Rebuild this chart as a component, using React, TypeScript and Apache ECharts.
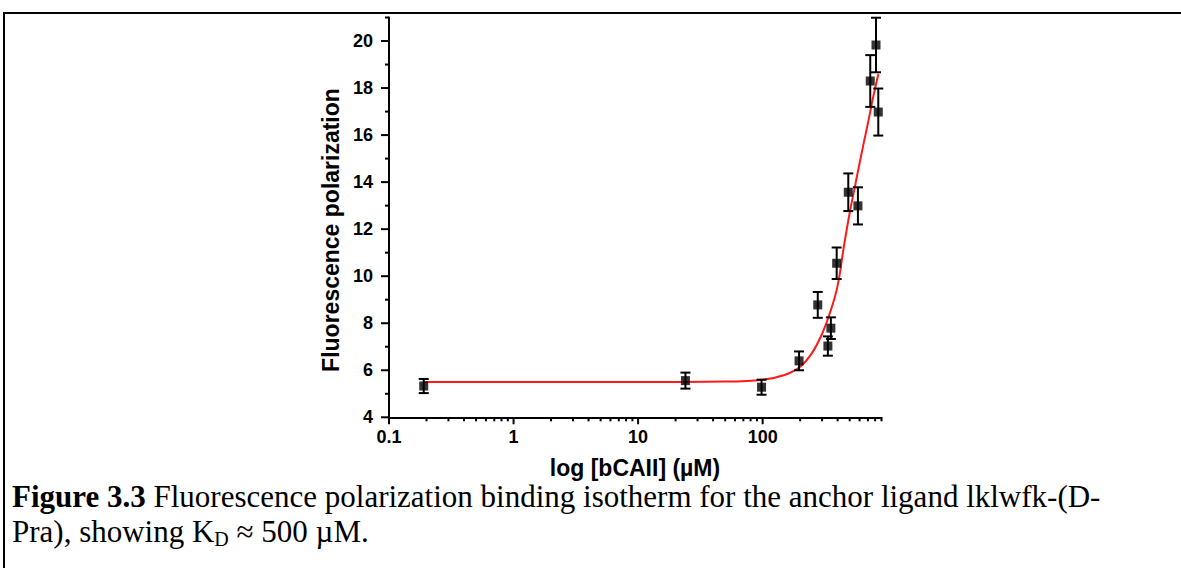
import React, { useEffect, useRef } from 'react';
import * as echarts from 'echarts';

// Measured data points (bCAII concentration in µM, polarization, error)
const concentrations = [0.19, 24, 98, 196, 277, 334, 353, 393, 487, 582, 731, 813, 848];
const polarization = [5.33, 5.56, 5.28, 6.40, 8.78, 7.03, 7.79, 10.55, 13.57, 12.99, 18.30, 19.83, 16.98];
const errors = [0.30, 0.34, 0.32, 0.40, 0.55, 0.41, 0.46, 0.67, 0.80, 0.79, 1.10, 1.16, 1.00];

// Fitted curve
const fitX = [0.19, 10, 50, 100, 150, 200, 250, 300, 350, 400, 450, 500, 550, 600, 650, 700, 750, 800, 850];
const fitY = [5.5, 5.5, 5.52, 5.6, 5.8, 6.15, 6.75, 7.55, 8.5, 9.6, 11.3, 12.7, 13.8, 14.8, 15.7, 16.5, 17.3, 18.0, 18.6];

// Axis ticks
const xMajorTicks = [0.1, 1, 10, 100];
const xMinorTicks = [
  0.2, 0.3, 0.4, 0.5, 0.6, 0.7, 0.8, 0.9,
  2, 3, 4, 5, 6, 7, 8, 9,
  20, 30, 40, 50, 60, 70, 80, 90,
  200, 300, 400, 500, 600, 700, 800, 900,
];
const yMajorTicks = [4, 6, 8, 10, 12, 14, 16, 18, 20];
const yMinorTicks = [5, 7, 9, 11, 13, 15, 17, 19, 21];

const X_MIN = 0.1;
const X_MAX = 900;
const Y_MIN = 4;
const Y_MAX = 21;

const SERIF = 'Liberation Serif, Times New Roman, serif';
const SANS = 'Liberation Sans, Arial, sans-serif';

const CAPTION_1_BOLD = 'Figure 3.3';
const CAPTION_1_REST = ' Fluorescence polarization binding isotherm for the anchor ligand lklwfk-(D-';
const CAPTION_2_PRE = 'Pra), showing K';
const CAPTION_2_SUB = 'D';
const CAPTION_2_POST = ' \u2248 500 \u00b5M.';

function measure(text: string, font: string): number {
  const c = document.createElement('canvas').getContext('2d');
  if (!c) return text.length * 14;
  c.font = font;
  return c.measureText(text).width;
}

export default function App() {
  const ref = useRef<HTMLDivElement>(null);

  useEffect(() => {
    if (!ref.current) return;
    const chart = echarts.init(ref.current, undefined, { renderer: 'svg' });

    const axisFont = {
      fontFamily: SANS,
      fontWeight: 'bold' as const,
      fontSize: 18,
      color: '#000',
    };

    const xTickData = [
      ...xMajorTicks.map((v) => [v, Y_MIN, 1]),
      ...xMinorTicks.map((v) => [v, Y_MIN, 0]),
    ];
    const yTickData = [
      ...yMajorTicks.map((v) => [X_MIN, v, 1]),
      ...yMinorTicks.map((v) => [X_MIN, v, 0]),
    ];

    const capX = 12;
    const wPre = measure(CAPTION_2_PRE, '31px ' + SERIF);
    const wSub = measure(CAPTION_2_SUB, '20px ' + SERIF);

    const option: any = {
      animation: false,
      backgroundColor: '#fff',
      grid: {
        left: 389,
        right: 299.5,
        top: 17.5,
        bottom: 150.7,
        containLabel: false,
        outerBoundsMode: 'none',
      },
      xAxis: {
        type: 'log',
        logBase: 10,
        min: X_MIN,
        max: X_MAX,
        axisLine: { show: true, lineStyle: { color: '#000', width: 2 } },
        axisTick: { show: false },
        splitLine: { show: false },
        minorTick: { show: false },
        axisLabel: {
          ...axisFont,
          margin: 11,
          showMaxLabel: false,
          formatter: (v: number) => {
            const l = Math.log10(v);
            if (Math.abs(l - Math.round(l)) > 1e-6) return '';
            const m = xMajorTicks.find((t) => Math.abs(Math.log10(t) - l) < 1e-6);
            return m === undefined ? '' : String(m);
          },
        },
      },
      yAxis: {
        type: 'value',
        min: Y_MIN,
        max: Y_MAX,
        interval: 2,
        axisLine: { show: true, lineStyle: { color: '#000', width: 2 } },
        axisTick: { show: false },
        splitLine: { show: false },
        axisLabel: {
          ...axisFont,
          margin: 16,
          formatter: (v: number) => (yMajorTicks.includes(v) ? String(v) : ''),
        },
      },
      graphic: [
        {
          type: 'polyline',
          silent: true,
          shape: { points: [[4, 568], [4, 13], [1181, 13]] },
          style: { stroke: '#000', lineWidth: 2, fill: 'none' },
        },
        {
          type: 'text',
          x: 331,
          y: 230,
          rotation: Math.PI / 2,
          style: {
            text: 'Fluorescence polarization',
            fontFamily: SANS,
            fontWeight: 'bold',
            fontSize: 23,
            fill: '#000',
            align: 'center',
            verticalAlign: 'middle',
          },
        },
        {
          type: 'text',
          x: 635,
          y: 468,
          style: {
            text: 'log [bCAII] (\u00b5M)',
            fontFamily: SANS,
            fontWeight: 'bold',
            fontSize: 23,
            fill: '#000',
            align: 'center',
            verticalAlign: 'middle',
          },
        },
        {
          type: 'text',
          x: capX,
          y: 496,
          style: {
            text: '{b|' + CAPTION_1_BOLD + '}{r|' + CAPTION_1_REST + '}',
            fontFamily: SERIF,
            fontSize: 31,
            lineHeight: 31,
            fill: '#000',
            align: 'left',
            verticalAlign: 'middle',
            rich: {
              b: { fontFamily: SERIF, fontWeight: 'bold', fontSize: 31, lineHeight: 31 },
              r: { fontFamily: SERIF, fontSize: 31, lineHeight: 31 },
            },
          },
        },
        {
          type: 'text',
          x: capX,
          y: 531,
          style: {
            text: CAPTION_2_PRE,
            fontFamily: SERIF,
            fontSize: 31,
            fill: '#000',
            align: 'left',
            verticalAlign: 'middle',
          },
        },
        {
          type: 'text',
          x: capX + wPre,
          y: 539,
          style: {
            text: CAPTION_2_SUB,
            fontFamily: SERIF,
            fontSize: 20,
            fill: '#000',
            align: 'left',
            verticalAlign: 'middle',
          },
        },
        {
          type: 'text',
          x: capX + wPre + wSub,
          y: 531,
          style: {
            text: CAPTION_2_POST,
            fontFamily: SERIF,
            fontSize: 31,
            fill: '#000',
            align: 'left',
            verticalAlign: 'middle',
          },
        },
      ],
      series: [
        {
          type: 'line',
          data: fitX.map((x, i) => [x, fitY[i]]),
          showSymbol: false,
          symbol: 'none',
          smooth: 0.4,
          lineStyle: { color: '#ff1a1a', width: 2 },
          z: 2,
          silent: true,
        },
        {
          type: 'custom',
          silent: true,
          clip: false,
          z: 3,
          data: concentrations.map((x, i) => [x, polarization[i], errors[i]]),
          renderItem: (_p: any, api: any) => {
            const x = api.value(0);
            const y = api.value(1);
            const e = api.value(2);
            const top = api.coord([x, y + e]);
            const bot = api.coord([x, y - e]);
            const hw = 5;
            const st = { stroke: '#000', lineWidth: 2 };
            return {
              type: 'group',
              children: [
                { type: 'line', shape: { x1: top[0], y1: top[1], x2: bot[0], y2: bot[1] }, style: st },
                { type: 'line', shape: { x1: top[0] - hw, y1: top[1], x2: top[0] + hw, y2: top[1] }, style: st },
                { type: 'line', shape: { x1: bot[0] - hw, y1: bot[1], x2: bot[0] + hw, y2: bot[1] }, style: st },
              ],
            };
          },
        },
        {
          type: 'scatter',
          data: concentrations.map((x, i) => [x, polarization[i]]),
          symbol: 'rect',
          symbolSize: 9,
          itemStyle: { color: '#000' },
          z: 4,
          silent: true,
        },
        {
          type: 'custom',
          silent: true,
          clip: false,
          z: 5,
          data: xTickData,
          renderItem: (_p: any, api: any) => {
            const p = api.coord([api.value(0), api.value(1)]);
            const len = api.value(2) ? 7 : 4;
            return {
              type: 'line',
              shape: { x1: p[0], y1: p[1], x2: p[0], y2: p[1] + len },
              style: { stroke: '#000', lineWidth: 2 },
            };
          },
        },
        {
          type: 'custom',
          silent: true,
          clip: false,
          z: 5,
          data: yTickData,
          renderItem: (_p: any, api: any) => {
            const p = api.coord([api.value(0), api.value(1)]);
            const len = api.value(2) ? 8 : 4;
            return {
              type: 'line',
              shape: { x1: p[0], y1: p[1], x2: p[0] - len, y2: p[1] },
              style: { stroke: '#000', lineWidth: 2 },
            };
          },
        },
      ],
    };

    chart.setOption(option);
    return () => chart.dispose();
  }, []);

  return (
    <div
      ref={ref}
      style={{ position: 'fixed', left: 0, top: 0, width: 1181, height: 568, background: '#fff' }}
    />
  );
}
